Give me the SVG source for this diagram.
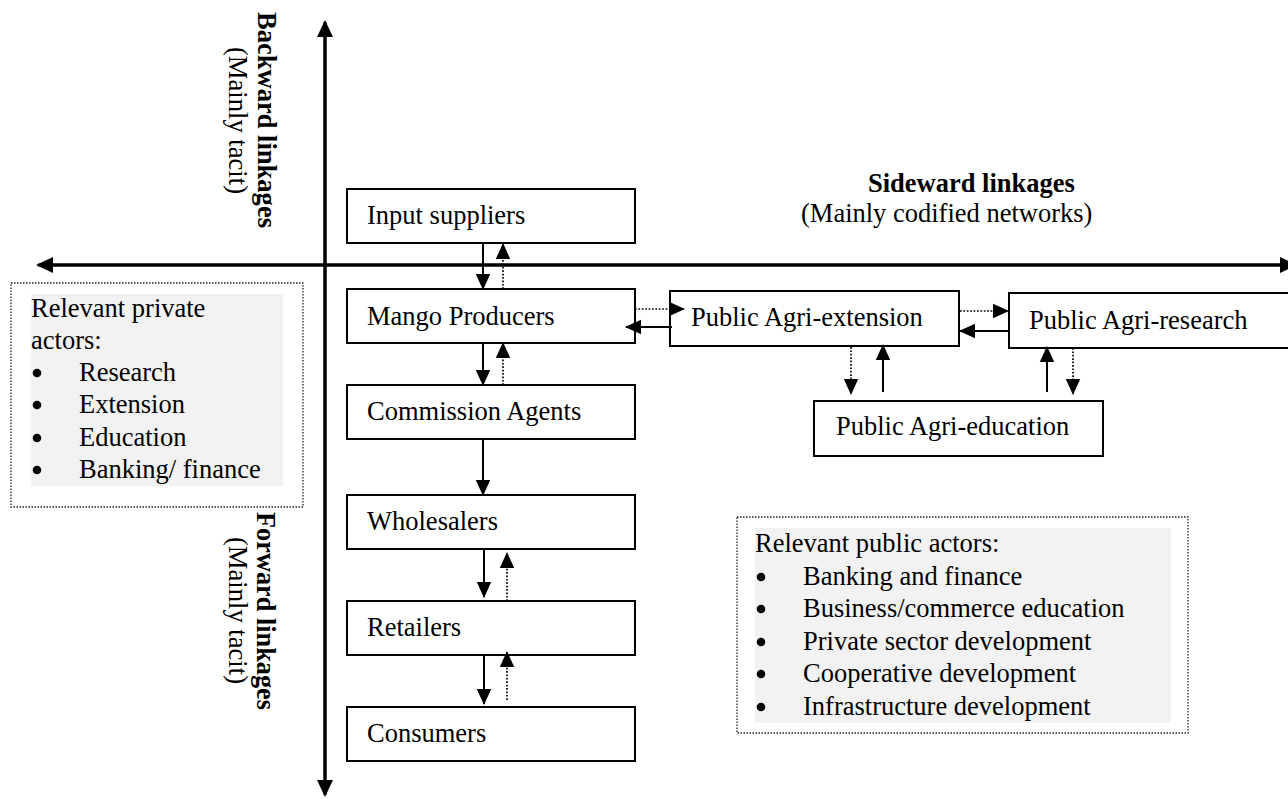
<svg xmlns="http://www.w3.org/2000/svg" width="1288" height="799" viewBox="0 0 1288 799">
<defs>
<style>
text{font-family:"Liberation Serif","Times New Roman",serif;font-size:26.5px;fill:#000}
.b{font-weight:bold}
.node rect{fill:#fff;stroke:#000;stroke-width:2}
.solid{stroke:#000;stroke-width:2;fill:none;marker-end:url(#ah)}
.dot{stroke:#000;stroke-width:1.7;stroke-dasharray:1.7 1.7;fill:none;marker-end:url(#ah)}
.axis{stroke:#000;stroke-width:3;fill:none}
.frame{fill:#fff;stroke:#222;stroke-width:1.3;stroke-dasharray:1.5 1.5}
.shade{fill:#f2f2f2}
.bul{fill:#000}
</style>
<marker id="ah" markerUnits="userSpaceOnUse" markerWidth="16" markerHeight="16" viewBox="0 0 16 16" refX="15" refY="8" orient="auto">
<path d="M0,0.8 L16,8 L0,15.2 z" fill="#000"/>
</marker>
<marker id="axh" markerUnits="userSpaceOnUse" markerWidth="17" markerHeight="16" viewBox="0 0 17 16" refX="15" refY="8" orient="auto">
<path d="M0,0 L17,8 L0,16 z" fill="#000"/>
</marker>
</defs>
<rect width="1288" height="799" fill="#fff"/>

<g id="axes">
<line class="axis" x1="325" y1="790" x2="325" y2="22" marker-end="url(#axh)"/>
<line class="axis" x1="325" y1="30" x2="325" y2="795" marker-end="url(#axh)"/>
<line class="axis" x1="1280" y1="265" x2="38" y2="265" marker-end="url(#axh)"/>
<line class="axis" x1="45" y1="265" x2="1295" y2="265" marker-end="url(#axh)"/>
</g>

<g id="axis-labels">
<text class="b" transform="translate(258,12) rotate(90)" font-size="28" textLength="216" lengthAdjust="spacingAndGlyphs">Backward linkages</text>
<text transform="translate(229,47) rotate(90)" font-size="18.5" textLength="147" lengthAdjust="spacingAndGlyphs">(Mainly tacit)</text>
<text class="b" transform="translate(257,512) rotate(90)" font-size="28" textLength="198" lengthAdjust="spacingAndGlyphs">Forward linkages</text>
<text transform="translate(229,537) rotate(90)" font-size="18.5" textLength="147" lengthAdjust="spacingAndGlyphs">(Mainly tacit)</text>
<text class="b" x="868" y="192">Sideward linkages</text>
<text x="801" y="222">(Mainly codified networks)</text>
</g>

<g id="private-actors">
<rect class="frame" x="11" y="283" width="292" height="224"/>
<rect class="shade" x="31" y="294" width="252" height="192"/>
<text x="31" y="317">Relevant private</text>
<text x="31" y="349">actors:</text>
<circle class="bul" cx="37" cy="373" r="4.3"/><text x="79" y="381">Research</text>
<circle class="bul" cx="37" cy="405" r="4.3"/><text x="79" y="413">Extension</text>
<circle class="bul" cx="37" cy="438" r="4.3"/><text x="79" y="446">Education</text>
<circle class="bul" cx="37" cy="470" r="4.3"/><text x="79" y="478">Banking/ finance</text>
</g>

<g id="public-actors">
<rect class="frame" x="737" y="517" width="451" height="216"/>
<rect class="shade" x="755" y="528" width="416" height="195"/>
<text x="755" y="552">Relevant public actors:</text>
<circle class="bul" cx="761" cy="577" r="4.3"/><text x="803" y="585">Banking and finance</text>
<circle class="bul" cx="761" cy="609" r="4.3"/><text x="803" y="617">Business/commerce education</text>
<circle class="bul" cx="761" cy="642" r="4.3"/><text x="803" y="650">Private sector development</text>
<circle class="bul" cx="761" cy="674" r="4.3"/><text x="803" y="682">Cooperative development</text>
<circle class="bul" cx="761" cy="707" r="4.3"/><text x="803" y="715">Infrastructure development</text>
</g>

<g id="input-suppliers" class="node"><rect x="347" y="189" width="288" height="54"/><text x="367" y="224">Input suppliers</text></g>
<g id="mango-producers" class="node"><rect x="347" y="289" width="288" height="54"/><text x="367" y="325">Mango Producers</text></g>
<g id="commission-agents" class="node"><rect x="347" y="385" width="288" height="54"/><text x="367" y="420">Commission Agents</text></g>
<g id="wholesalers" class="node"><rect x="347" y="495" width="288" height="54"/><text x="367" y="530">Wholesalers</text></g>
<g id="retailers" class="node"><rect x="347" y="601" width="288" height="54"/><text x="367" y="636">Retailers</text></g>
<g id="consumers" class="node"><rect x="347" y="707" width="288" height="54"/><text x="367" y="742">Consumers</text></g>
<g id="agri-extension" class="node"><rect x="670" y="291" width="289" height="55"/><text x="691" y="326">Public Agri-extension</text></g>
<g id="agri-research" class="node"><rect x="1009" y="293" width="284" height="55"/><text x="1029" y="329">Public Agri-research</text></g>
<g id="agri-education" class="node"><rect x="814" y="401" width="289" height="55"/><text x="836" y="435">Public Agri-education</text></g>

<g id="connectors">
<line class="solid" x1="483" y1="242" x2="483" y2="289"/>
<line class="dot" x1="503" y1="289" x2="503" y2="244"/>
<line class="solid" x1="483" y1="343" x2="483" y2="385"/>
<line class="dot" x1="503" y1="385" x2="503" y2="343"/>
<line class="solid" x1="483" y1="440" x2="483" y2="495"/>
<line class="solid" x1="484" y1="549" x2="484" y2="597"/>
<line class="dot" x1="507" y1="601" x2="507" y2="553"/>
<line class="solid" x1="484" y1="656" x2="484" y2="704"/>
<line class="dot" x1="507" y1="700" x2="507" y2="652"/>
<line class="dot" x1="635" y1="309" x2="684" y2="309"/>
<line class="solid" x1="672" y1="327" x2="626" y2="327"/>
<line class="dot" x1="960" y1="311" x2="1008" y2="311"/>
<line class="solid" x1="1009" y1="331" x2="960" y2="331"/>
<line class="dot" x1="851" y1="347" x2="851" y2="394"/>
<line class="solid" x1="883" y1="392" x2="883" y2="345"/>
<line class="solid" x1="1047" y1="392" x2="1047" y2="347"/>
<line class="dot" x1="1073" y1="348" x2="1073" y2="394"/>
</g>
</svg>
